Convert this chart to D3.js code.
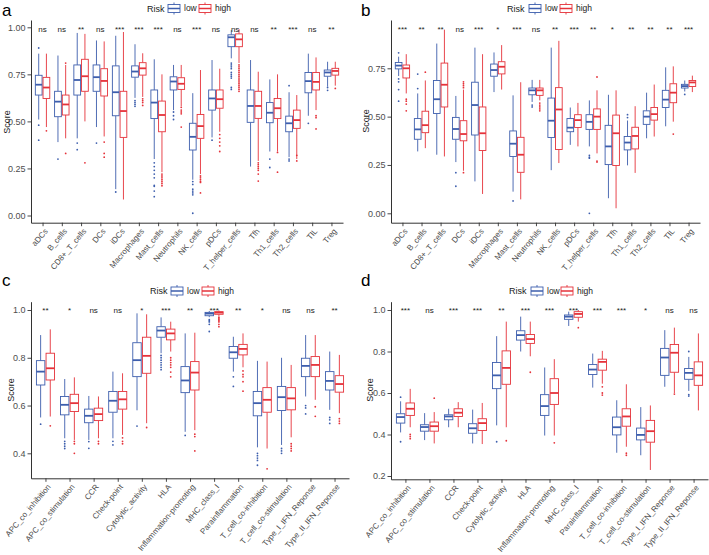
<!DOCTYPE html>
<html><head><meta charset="utf-8">
<script src="https://cdn.jsdelivr.net/npm/d3@7"></script>
<style>
html,body{margin:0;padding:0;background:#fff;}
svg{display:block;font-family:"Liberation Sans",Arial,sans-serif;}
</style></head>
<body><svg id="chart" width="709" height="555"></svg>
<script>
// ---------- DATA ----------
// each box: [lowerWhisker, q1, median, q3, upperWhisker]
const catsA = ["aDCs","B_cells","CD8+_T_cells","DCs","iDCs","Macrophages","Mast_cells","Neutrophils","NK_cells","pDCs","T_helper_cells","Tfh","Th1_cells","Th2_cells","TIL","Treg"];
const lowA = [[.51,.64,.695,.745,.86],[.39,.525,.605,.66,.85],[.41,.64,.72,.80,.97],[.47,.66,.735,.80,.93],[.14,.53,.655,.795,.955],[.625,.735,.765,.795,.91],[.30,.515,.60,.667,.83],[.56,.667,.712,.737,.80],[.19,.348,.418,.49,.65],[.415,.56,.622,.667,.826],[.835,.897,.947,.96,.985],[.26,.495,.582,.667,.826],[.34,.493,.546,.60,.723],[.31,.445,.49,.528,.655],[.53,.652,.714,.76,.86],[.685,.74,.76,.773,.817]];
const highA = [[.47,.622,.68,.734,.86],[.41,.534,.59,.64,.80],[.50,.66,.74,.83,.965],[.42,.635,.715,.78,.925],[.085,.415,.555,.66,.975],[.63,.746,.782,.812,.862],[.23,.445,.534,.608,.75],[.58,.67,.70,.732,.80],[.22,.41,.475,.537,.773],[.445,.57,.618,.667,.78],[.81,.897,.936,.965,.99],[.29,.516,.582,.66,.764],[.34,.515,.57,.622,.75],[.30,.463,.507,.56,.64],[.56,.667,.71,.76,.84],[.69,.746,.768,.782,.817]];
const lowOutA = [[.89,.48,.40],[.30],[.385,.35],[.385],[.125],[.61,.60,.59,.58],[.28,.26,.24,.22,.20,.16,.155,.13,.10],[.55,.53,.51],[.18,.165,.14,.13,.12,.11,.012],[.40],[.81,.80,.79,.78,.76,.75,.74,.73,.68,.67],[],[.30,.255],[.69,.30,.29],[.49],[.68,.665]];
const highOutA = [[.45],[.81,.33],[.28],[.39,.33,.31],[],[.62,.61,.60,.585],[.22,.21,.20,.19,.18,.17,.158],[.575,.56,.55,.54,.47],[.21,.20,.19,.18,.176,.12],[.43,.41,.39,.37,.34],[.80,.79,.78,.77,.76,.75,.74,.73,.72,.71,.70,.69,.68,.67,.66],[.28,.27,.26,.25,.24,.22,.183],[.335,.23],[.32,.29],[.53,.52,.46],[.675]];
const sigA = ["ns","ns","**","ns","***","***","***","ns","***","ns","ns","ns","**","***","ns","**"];

const catsB = catsA;
const lowB = [[.71,.747,.764,.78,.81],[.32,.383,.434,.49,.62],[.303,.516,.59,.687,.878],[.265,.383,.436,.496,.607],[.165,.405,.56,.678,.857],[.627,.709,.741,.772,.832],[.112,.294,.36,.426,.61],[.576,.613,.636,.648,.69],[.223,.392,.479,.596,.857],[.354,.422,.443,.49,.547],[.346,.434,.473,.51,.584],[.078,.252,.346,.455,.613],[.248,.328,.366,.397,.48],[.388,.46,.50,.53,.624],[.45,.547,.588,.636,.755],[.63,.648,.658,.667,.687]];
const highB = [[.62,.70,.75,.767,.823],[.337,.417,.456,.528,.687],[.294,.55,.665,.777,.95],[.22,.375,.41,.479,.64],[.10,.325,.414,.55,.823],[.64,.721,.758,.784,.87],[.072,.212,.303,.393,.678],[.584,.61,.636,.648,.69],[.26,.33,.537,.65,.892],[.346,.444,.482,.51,.571],[.31,.434,.50,.54,.636],[.026,.247,.414,.508,.636],[.209,.333,.40,.445,.554],[.397,.482,.513,.547,.666],[.474,.572,.624,.67,.76],[.627,.656,.677,.687,.712]];
const lowOutB = [[.83,.695,.68,.64,.58],[.72,.645],[],[.21,.14],[],[],[.064],[.56,.55],[],[],[.30,.29,.285,0],[],[.51,.495],[],[],[.615]];
const highOutB = [[.59,.58,.565,.53],[.73],[],[.68,.67,.66,.65,.21],[],[],[],[.57,.56,.55,.54,.53],[],[],[.705,.27,.265],[],[],[],[.41],[]];
const sigB = ["***","**","**","ns","***","*","***","ns","**","***","**","*","**","**","**","***"];

const catsC = ["APC_co_inhibition","APC_co_stimulation","CCR","Check-point","Cytolytic_activity","HLA","Inflammation-promoting","MHC_class_I","Parainflammation","T_cell_co-inhibition","T_cell_co-stimulation","Type_I_IFN_Reponse","Type_II_IFN_Reponse"];
const lowC = [[.55,.686,.742,.788,.895],[.463,.561,.603,.638,.711],[.456,.528,.557,.585,.64],[.463,.572,.62,.659,.742],[.58,.721,.79,.863,.986],[.819,.886,.914,.93,.969],[.49,.654,.705,.763,.902],[.97,.976,.985,.99,.996],[.742,.798,.823,.847,.888],[.425,.557,.61,.659,.787],[.435,.579,.635,.68,.80],[.638,.721,.766,.798,.895],[.582,.665,.703,.742,.826]];
const highC = [[.554,.707,.756,.819,.919],[.456,.575,.61,.647,.718],[.463,.537,.564,.589,.638],[.477,.585,.626,.659,.735],[.526,.735,.808,.886,.982],[.826,.875,.902,.92,.951],[.497,.665,.738,.784,.905],[.975,.982,.989,.993,.998],[.76,.812,.837,.856,.902],[.42,.572,.624,.675,.784],[.467,.582,.63,.675,.77],[.624,.721,.77,.805,.895],[.568,.656,.69,.725,.812]];
const lowOutC = [[.522],[.45,.44,.43,.42],[.449,.421],[.45,.435],[.514],[.81,.80,.79,.78,.77,.76,.75],[.475],[.96,.955,.95,.94,.91],[.72,.68],[.40,.39,.38,.37,.35],[.42,.41,.40],[.60,.59,.565],[.55,.54,.525]];
const highOutC = [[.515],[.45,.44,.40],[.45,.44],[.465,.45,.44],[.508],[.80,.79,.78,.77,.76,.74,.72],[.48,.47,.41],[.97,.965,.96,.955,.95,.94,.93],[.745,.73,.72,.70,.66],[.335],[.44,.43,.42,.41],[.595,.555],[.545,.535,.525]];
const sigC = ["**","*","ns","ns","*","***","**","***","**","*","ns","ns","**"];

const catsD = catsC;
const lowD = [[.41,.455,.484,.50,.56],[.373,.416,.436,.447,.503],[.435,.471,.487,.495,.524],[.357,.406,.43,.452,.52],[.444,.621,.685,.747,.874],[.80,.855,.879,.90,.968],[.395,.492,.537,.592,.723],[.923,.955,.968,.976,.992],[.626,.689,.713,.737,.79],[.312,.398,.435,.484,.565],[.30,.374,.398,.431,.532],[.63,.685,.771,.815,.903],[.61,.666,.697,.718,.774]];
const highD = [[.435,.492,.524,.552,.62],[.357,.416,.44,.46,.508],[.435,.487,.505,.524,.556],[.354,.419,.455,.476,.552],[.435,.642,.721,.803,.944],[.777,.839,.86,.882,.944],[.395,.545,.60,.669,.763],[.944,.965,.981,.992,1.0],[.645,.71,.75,.763,.803],[.341,.44,.487,.524,.642],[.229,.363,.416,.468,.54],[.60,.70,.794,.834,.915],[.516,.637,.685,.75,.887]];
const lowOutD = [[.58,.365],[],[],[],[.365],[],[],[],[],[],[],[],[.80,.592,.585]];
const highOutD = [[.40,.39,.38],[.575],[],[],[.37],[.70],[.36],[.915],[.63,.60,.59],[.31,.30],[],[.595],[]];
const sigD = ["***","ns","***","***","**","***","***","***","***","***","*","ns","ns"];

const groups = ["low","high"];
const ticksA = [0,0.25,0.5,0.75,1.0];
const ticksB = [0,0.25,0.5,0.75];
const ticksC = [0.4,0.6,0.8,1.0];
const ticksD = [0.2,0.4,0.6,0.8,1.0];

// ---------- STYLE / LAYOUT ----------
const colors = {low:"#3D5EAD", high:"#E5323A"};
const svg = d3.select("#chart");

function calibScale(vA,pA,vB,pB,top,bottom){
  const s = (pB-pA)/(vB-vA);
  const inv = p => vA + (p-pA)/s;
  return d3.scaleLinear().domain([inv(bottom), inv(top)]).range([bottom, top]);
}

const panels = [
  {letter:"a", cats:catsA, low:lowA, high:highA, lowOut:lowOutA, highOut:highOutA, sig:sigA, ticks:ticksA, fmt:".2f",
   x0:31, x1:343, top:20, bottom:222.7, cal:[0,215.5,1,27.3], letterXY:[2,15.5], scoreXY:[7,122],
   leg:{risk:147, k1:168, k2:199, y:8.5}},
  {letter:"b", cats:catsB, low:lowB, high:highB, lowOut:lowOutB, highOut:highOutB, sig:sigB, ticks:ticksB, fmt:".2f",
   x0:391, x1:700, top:20, bottom:222.7, cal:[0,213.3,0.75,68.3], letterXY:[361,15.5], scoreXY:[366,121],
   leg:{risk:507, k1:529, k2:560, y:8.5}},
  {letter:"c", cats:catsC, low:lowC, high:highC, lowOut:lowOutC, highOut:highOutC, sig:sigC, ticks:ticksC, fmt:".1f",
   x0:31, x1:349, top:301.7, bottom:478.3, cal:[0.4,453.3,1.0,310], letterXY:[2,285.5], scoreXY:[11,390],
   leg:{risk:150, k1:171, k2:202, y:291}},
  {letter:"d", cats:catsD, low:lowD, high:highD, lowOut:lowOutD, highOut:highOutD, sig:sigD, ticks:ticksD, fmt:".1f",
   x0:391, x1:708, top:301.7, bottom:479.3, cal:[0.2,476,1.0,310], letterXY:[361,286], scoreXY:[370,390],
   leg:{risk:509, k1:531, k2:561, y:291}}
];

panels.forEach(p => {
  const g = svg.append("g");
  const x = d3.scalePoint().domain(p.cats).range([p.x0, p.x1]).padding(0.6);
  const step = x.step();
  const y = calibScale(p.cal[0],p.cal[1],p.cal[2],p.cal[3],p.top,p.bottom);
  const dodge = 0.2*step, bw = 0.35*step;

  // boxes
  groups.forEach((grp, gi) => {
    const stats = gi===0 ? p.low : p.high;
    const outs = gi===0 ? p.lowOut : p.highOut;
    const col = colors[grp];
    const off = gi===0 ? -dodge : dodge;
    const bg = g.append("g");
    p.cats.forEach((c, i) => {
      const s = stats[i];
      const cx = x(c) + off;
      bg.append("line").attr("x1",cx).attr("x2",cx).attr("y1",y(s[3])).attr("y2",y(s[4]))
        .attr("stroke",col).attr("stroke-width",0.9);
      bg.append("line").attr("x1",cx).attr("x2",cx).attr("y1",y(s[1])).attr("y2",y(s[0]))
        .attr("stroke",col).attr("stroke-width",0.9);
      bg.append("rect").attr("x",cx-bw/2).attr("width",bw)
        .attr("y",y(s[3])).attr("height",Math.max(0.5,y(s[1])-y(s[3])))
        .attr("fill","#fff").attr("stroke",col).attr("stroke-width",0.9);
      bg.append("line").attr("x1",cx-bw/2).attr("x2",cx+bw/2).attr("y1",y(s[2])).attr("y2",y(s[2]))
        .attr("stroke",col).attr("stroke-width",1.8);
      outs[i].forEach(v => {
        bg.append("circle").attr("cx",cx).attr("cy",y(v)).attr("r",0.9).attr("fill",col);
      });
    });
  });

  // significance labels
  g.append("g").selectAll("text").data(p.cats).join("text")
    .attr("x", d => x(d)).attr("y", p.top + 11.5)
    .attr("text-anchor","middle").attr("font-size",8).attr("fill","#222")
    .text((d,i) => p.sig[i]);

  // axes
  const ax = g.append("g").attr("transform",`translate(0,${p.bottom})`)
    .call(d3.axisBottom(x).tickSize(3.5).tickSizeOuter(0).tickPadding(2));
  ax.select(".domain").attr("stroke","#333").attr("stroke-width",1);
  ax.selectAll(".tick line").attr("stroke","#333").attr("stroke-width",0.9);
  ax.selectAll(".tick text")
    .attr("font-size",8).attr("fill","#4D4D4D")
    .attr("text-anchor","end").attr("dy","0.35em")
    .attr("transform", "translate(3,7) rotate(-50)")
    .attr("y",0).attr("x",0);

  const ay = g.append("g").attr("transform",`translate(${p.x0},0)`)
    .call(d3.axisLeft(y).tickValues(p.ticks).tickFormat(d3.format(p.fmt)).tickSize(3.5).tickSizeOuter(0).tickPadding(2));
  ay.select(".domain").attr("stroke","#333").attr("stroke-width",1);
  ay.selectAll(".tick line").attr("stroke","#333").attr("stroke-width",0.9);
  ay.selectAll(".tick text").attr("font-size",9).attr("fill","#4D4D4D");

  // y title
  g.append("text").attr("transform",`translate(${p.scoreXY[0]},${p.scoreXY[1]}) rotate(-90)`)
    .attr("text-anchor","middle").attr("dy","0.35em").attr("font-size",9).attr("fill","#1a1a1a").text("Score");

  // panel letter
  g.append("text").attr("x",p.letterXY[0]).attr("y",p.letterXY[1]).attr("font-size",17)
    .attr("fill","#000").text(p.letter);

  // legend
  const L = p.leg;
  g.append("text").attr("x",L.risk).attr("y",L.y).attr("dy","0.35em").attr("font-size",9).attr("fill","#1a1a1a").text("Risk");
  [[L.k1,"low"],[L.k2,"high"]].forEach(([kx,grp]) => {
    const col = colors[grp];
    const kg = g.append("g");
    kg.append("line").attr("x1",kx+6).attr("x2",kx+6).attr("y1",L.y-6).attr("y2",L.y+6).attr("stroke",col).attr("stroke-width",0.9);
    kg.append("rect").attr("x",kx).attr("y",L.y-4).attr("width",12).attr("height",8).attr("fill","#fff").attr("stroke",col).attr("stroke-width",0.9);
    kg.append("line").attr("x1",kx).attr("x2",kx+12).attr("y1",L.y).attr("y2",L.y).attr("stroke",col).attr("stroke-width",1.5);
    kg.append("text").attr("x",kx+16).attr("y",L.y).attr("dy","0.35em").attr("font-size",8.5).attr("fill","#1a1a1a").text(grp);
  });
});
</script></body></html>
